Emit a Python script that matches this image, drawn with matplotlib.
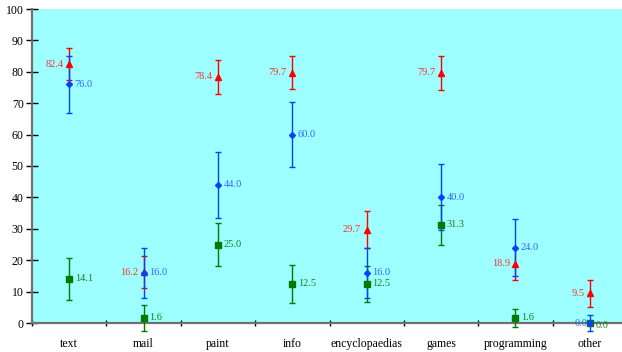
import matplotlib
matplotlib.use("Agg")
import matplotlib.pyplot as plt
import numpy as np

categories = ["text", "mail", "paint", "info", "encyclopaedias", "games",
              "programming", "other"]

red_vals = [82.4, 16.2, 78.4, 79.7, 29.7, 79.7, 18.9, 9.5]
red_err = [5.1, 5.0, 5.5, 5.3, 5.9, 5.4, 5.1, 4.3]

blue_vals = [76.0, 16.0, 44.0, 60.0, 16.0, 40.0, 24.0, 0.0]
blue_err = [9.0, 7.9, 10.5, 10.3, 7.9, 10.5, 9.1, 2.4]

green_vals = [14.1, 1.6, 25.0, 12.5, 12.5, 31.3, 1.6, 0.0]
green_err = [6.7, 4.2, 6.7, 6.1, 5.8, 6.4, 3.0, 0.0]

RED = "#ff0000"
BLUE = "#0044ff"
GREEN = "#007a00"

plt.rcParams["font.family"] = ["Liberation Serif", "DejaVu Serif"]

fig = plt.figure(figsize=(6.22, 3.52), dpi=100)
ax = fig.add_axes([32 / 622, 29 / 352, 595 / 622, 314 / 352])
ax.set_facecolor("#9dffff")

x = np.arange(len(categories))

common = dict(capsize=2.3, elinewidth=1.0, capthick=1.0, linestyle="none",
              clip_on=False, zorder=3)
ax.errorbar(x, green_vals, yerr=green_err, color=GREEN, marker="s",
            markersize=4, **common)
ax.errorbar(x, red_vals, yerr=red_err, color=RED, marker="^",
            markersize=4.5, **common)
ax.errorbar(x, blue_vals, yerr=blue_err, color=BLUE, marker="D",
            markersize=3, **common)

lab = dict(fontsize=7.5, va="center", textcoords="offset points",
           annotation_clip=False, zorder=4)
for i in range(len(categories)):
    ax.annotate(f"{red_vals[i]:.1f}", (x[i], red_vals[i]), xytext=(-4, 0),
                ha="right", color="#ff3030", **lab)
    if blue_vals[i] == 0:
        ax.annotate(f"{blue_vals[i]:.1f}", (x[i], blue_vals[i]),
                    xytext=(-1.5, 0), ha="right", color="#3366ff", **lab)
    else:
        ax.annotate(f"{blue_vals[i]:.1f}", (x[i], blue_vals[i]),
                    xytext=(4, 0), ha="left", color="#3366ff", **lab)
    dy = -1.5 if green_vals[i] == 0 else 0
    ax.annotate(f"{green_vals[i]:.1f}", (x[i], green_vals[i]),
                xytext=(4, dy), ha="left", color="#1a801a", **lab)

ax.set_xlim(-0.5, len(categories) - 0.5)
ax.set_ylim(0, 100)
ax.set_yticks(np.arange(0, 101, 10))
ax.set_xticks(np.arange(-0.5, len(categories), 1.0))
ax.set_xticklabels([])
ax.set_xticks(x, minor=True)
ax.set_xticklabels(categories, minor=True)
ax.tick_params(axis="x", which="minor", length=0, pad=11, labelsize=8.5)
ax.tick_params(axis="x", which="major", length=5, width=1, direction="inout",
               color="black")
ax.tick_params(axis="y", length=8, width=1, direction="inout", color="black",
               labelsize=8.5, pad=2)

for side in ("top", "right"):
    ax.spines[side].set_visible(False)
for side in ("left", "bottom"):
    ax.spines[side].set_color("#707070")
    ax.spines[side].set_linewidth(1.6)

fig.savefig("out.png", dpi=100)
